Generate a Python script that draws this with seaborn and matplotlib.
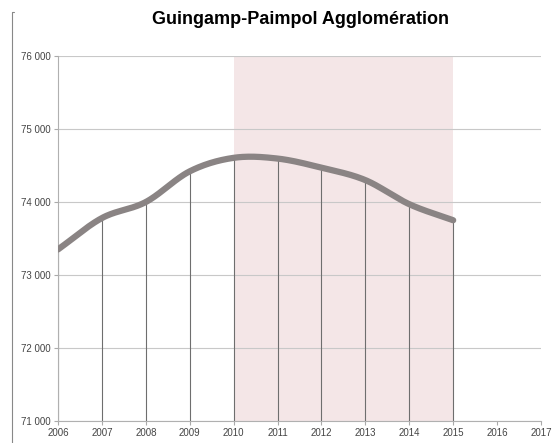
import numpy as np
import pandas as pd
import matplotlib
matplotlib.use("Agg")
import matplotlib.pyplot as plt
import seaborn as sns

years = [2006, 2007, 2008, 2009, 2010, 2011, 2012, 2013, 2014, 2015]
population = [73350, 73780, 74000, 74420, 74605, 74595, 74470, 74300, 73970, 73750]
y_ticks = [71000, 72000, 73000, 74000, 75000, 76000]
x_ticks = list(range(2006, 2018))
highlight = (2010, 2015)
title = "Guingamp-Paimpol Agglomération"

sns.set_theme(style="white")
plt.rcParams['font.family'] = ['Liberation Sans', 'DejaVu Sans']

fig = plt.figure(figsize=(5.52, 4.43), dpi=100)
ax = fig.add_axes([58/552, 1-421/443, (541-58)/552, (421-56)/443])

# smoothed curve (Catmull-Rom through data points)
def catmull(xs, ys, n=30):
    xs = np.asarray(xs, float); ys = np.asarray(ys, float)
    px = np.concatenate([[2*xs[0]-xs[1]], xs, [2*xs[-1]-xs[-2]]])
    py = np.concatenate([[2*ys[0]-ys[1]], ys, [2*ys[-1]-ys[-2]]])
    ox, oy = [], []
    for i in range(1, len(px)-2):
        t = np.linspace(0, 1, n, endpoint=False)
        for arr, out in ((px, ox), (py, oy)):
            p0, p1, p2, p3 = arr[i-1], arr[i], arr[i+1], arr[i+2]
            out.extend(0.5*((2*p1) + (-p0+p2)*t + (2*p0-5*p1+4*p2-p3)*t**2 + (-p0+3*p1-3*p2+p3)*t**3))
    ox.append(xs[-1]); oy.append(ys[-1])
    return np.array(ox), np.array(oy)

ax.axvspan(highlight[0], highlight[1], color="#f4e6e7", zorder=0, lw=0)
for yt in y_ticks:
    ax.axhline(yt, color="#c8c8c8", lw=0.8, zorder=1)

df = pd.DataFrame({"year": years, "pop": population})
ax.vlines(df["year"], y_ticks[0], df["pop"], color="#6e6e6e", lw=0.8, zorder=2)

sx, sy = catmull(years, population)
sm = pd.DataFrame({"x": sx, "y": sy})
sns.lineplot(data=sm, x="x", y="y", ax=ax, color="#8a8484", lw=4.5, zorder=3,
             solid_capstyle="round", sort=False)

ax.set_xlim(2006, 2017)
ax.set_ylim(71000, 76000)
ax.set_xticks(x_ticks)
ax.set_xticklabels([str(x) for x in x_ticks], fontsize=7, color="#444444")
ax.set_yticks(y_ticks)
ax.set_yticklabels([f"{v:,}".replace(",", " ") for v in y_ticks], fontsize=7, color="#444444")
ax.set_xlabel("")
ax.set_ylabel("")
ax.tick_params(axis="both", length=3, width=0.8, color="#aaaaaa", pad=2, bottom=True, left=True)
for s in ["top", "right"]:
    ax.spines[s].set_visible(False)
for s in ["left", "bottom"]:
    ax.spines[s].set_color("#b0b0b0")
    ax.spines[s].set_linewidth(0.8)

fig.text(301/552, 1-19/443, title, ha="center", va="center", fontsize=13, fontweight="bold", color="black")
fig.add_artist(plt.Line2D([14/552, 12/552, 12/552], [1-12/443, 1-12/443, 0], color="#888888", lw=0.8))

fig.savefig("out.png", dpi=100)
